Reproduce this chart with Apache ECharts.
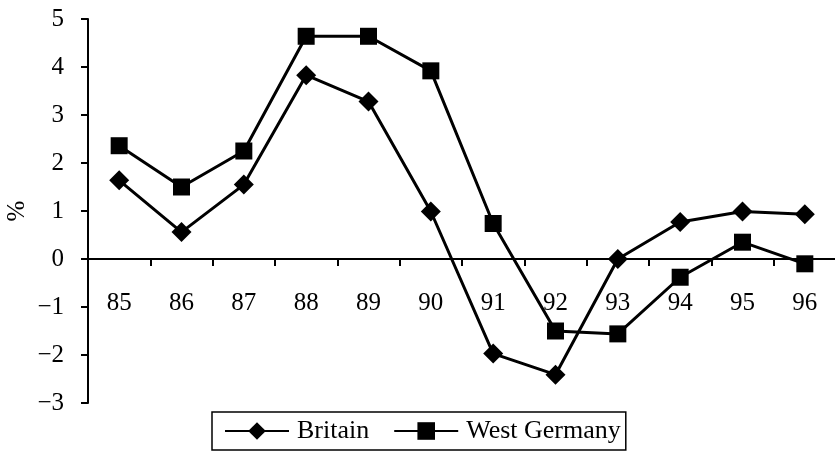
<!DOCTYPE html>
<html>
<head>
<meta charset="utf-8">
<script src="https://cdn.jsdelivr.net/npm/echarts@6/dist/echarts.min.js"></script>
<style>html,body{margin:0;padding:0;background:#fff}#c{width:835px;height:455px}</style>
</head>
<body>
<div id="c"></div>
<script>
var categories = ['85','86','87','88','89','90','91','92','93','94','95','96'];
var britain = [1.64, 0.56, 1.55, 3.83, 3.28, 0.99, -1.97, -2.41, 0.0, 0.77, 0.99, 0.93];
var westGermany = [2.36, 1.50, 2.25, 4.64, 4.64, 3.92, 0.74, -1.50, -1.56, -0.38, 0.35, -0.10];
var yTickLabels = {'-3':'\u22123','-2':'\u22122','-1':'\u22121','0':'0','1':'1','2':'2','3':'3','4':'4','5':'5'};

var font = 'Liberation Serif';
var chart = echarts.init(document.getElementById('c'), null, {renderer:'canvas'});
chart.setOption({
  animation:false,
  backgroundColor:'#fff',
  grid:{left:88, right:-1, top:19, bottom:52, containLabel:false, outerBoundsMode:'none'},
  legend:{
    left:212, top:412,
    data:['Britain','West Germany'],
    itemWidth:64, itemHeight:22, itemGap:24,
    padding:[6,5,6,12],
    borderColor:'#000', borderWidth:1.5,
    textStyle:{fontFamily:font, fontSize:26, color:'#000', padding:[0,0,0,3]}
  },
  xAxis:{
    type:'category', data:categories, boundaryGap:true,
    axisLine:{onZero:true, lineStyle:{color:'#000', width:2}},
    axisTick:{show:true, inside:false, length:7, lineStyle:{color:'#000', width:2}},
    axisLabel:{fontFamily:font, fontSize:25, color:'#000', margin:-112}
  },
  yAxis:{
    type:'value', min:-3, max:5, interval:1,
    name:'%', nameLocation:'middle', nameRotate:90, nameGap:58, nameMoveOverlap:false,
    nameTextStyle:{fontFamily:font, fontSize:25, color:'#000'},
    splitLine:{show:false},
    axisLine:{show:true, lineStyle:{color:'#000', width:2}},
    axisTick:{show:true, inside:false, length:7, lineStyle:{color:'#000', width:2}},
    axisLabel:{fontFamily:font, fontSize:25, color:'#000', margin:24,
      formatter:function(v){return yTickLabels[String(v)];}}
  },
  series:[
    {name:'Britain', type:'line', data:britain, symbol:'diamond', symbolSize:20,
     lineStyle:{color:'#000', width:3}, itemStyle:{color:'#000'}, z:3},
    {name:'West Germany', type:'line', data:westGermany, symbol:'rect', symbolSize:17,
     lineStyle:{color:'#000', width:3}, itemStyle:{color:'#000'}, z:3}
  ]
});
</script>
</body>
</html>
